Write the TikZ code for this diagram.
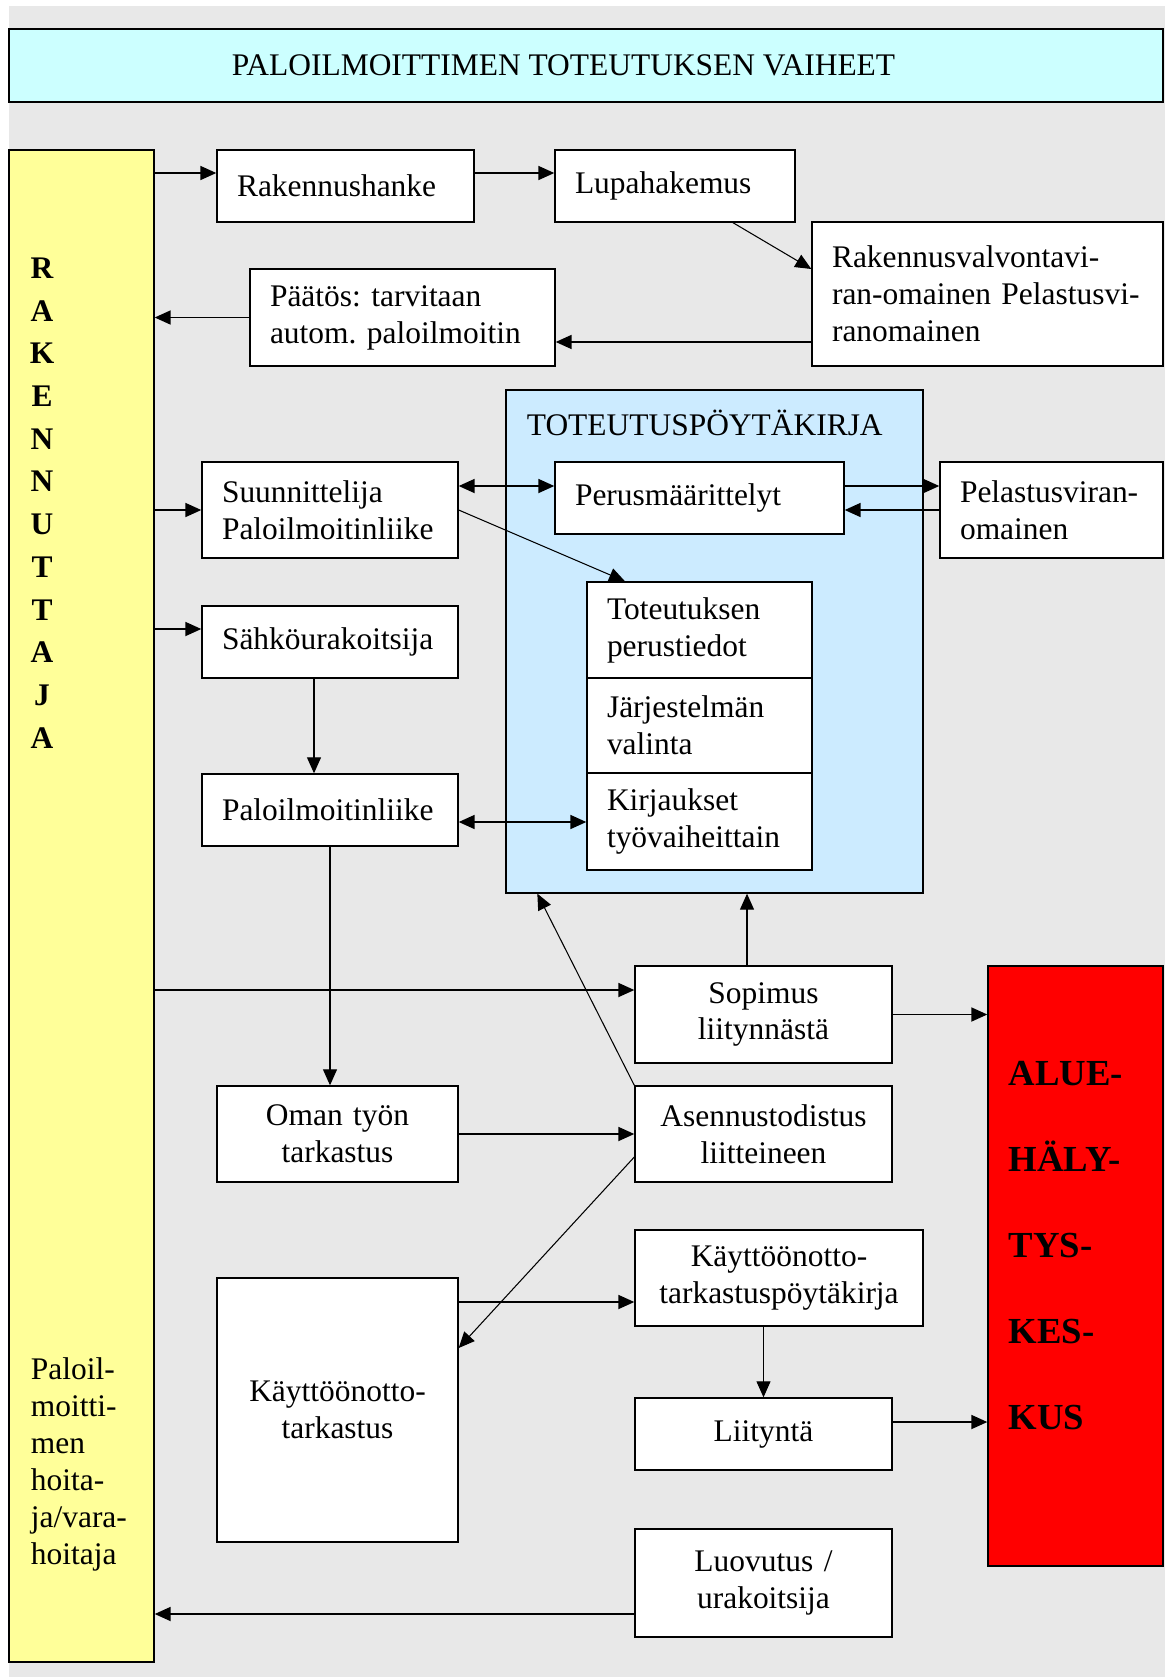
\documentclass[tikz,border=0pt]{standalone}
\usepackage{fontspec}
\setmainfont{Liberation Serif}
\usepackage{tikz}
\usetikzlibrary{arrows.meta, positioning}
\definecolor{bggray}{HTML}{E8E8E8}
\definecolor{titlecyan}{HTML}{CCFFFF}
\definecolor{rkyellow}{HTML}{FFFF99}
\definecolor{tpkblue}{HTML}{CCEBFF}
\hyphenpenalty=10000
\exhyphenpenalty=10000
\frenchspacing

\begin{document}
\begin{tikzpicture}[->,
	>={Triangle[length=0.32cm, width=0.28cm]},
	x=0.02cm, y=-0.02cm,
	line width=1pt,
	txt/.style={font=\fontsize{17.9}{21}\selectfont},
	box/.style={draw, thick, fill=white, txt, align=left, inner xsep=0.4cm, inner ysep=0.1cm},
	cbox/.style={box, align=center}]
	\useasboundingbox (0,0) rectangle (1165,1677);
	\fill[bggray] (9,6) rectangle (1165,1677);
	% otsikko ja reunapalkit
	\node at (586,65.5) (title) [box, fill=titlecyan, minimum width=23.08cm, minimum height=1.46cm, align=center] {\hspace*{-0.9cm}PALOILMOITTIMEN TOTEUTUKSEN VAIHEET};
	\node at (81.5,906) (rk) [box, fill=rkyellow, minimum width=2.9cm, minimum height=30.24cm] {};
	\node at (714.5,641.5) (tpk) [box, fill=tpkblue, minimum width=8.34cm, minimum height=10.06cm] {};
	\node at (1075.5,1266) (alue) [box, fill=red, minimum width=3.5cm, minimum height=12cm] {};
	\node at (42,257) (rkname) [anchor=north, inner sep=0, align=center, font=\bfseries\fontsize{17.9}{24.3}\selectfont] {R\\A\\K\\E\\N\\N\\U\\T\\T\\A\\J\\A};
	\node at (30,1357) (hoitaja) [anchor=north west, inner sep=0, align=left, txt] {Paloil-\\moitti-\\men\\hoita-\\ja/vara-\\hoitaja};
	\node at (1008,1060) (aluename) [anchor=north west, inner sep=0, align=left, font=\bfseries\fontsize{20.9}{49}\selectfont] {ALUE-\\HÄLY-\\TYS-\\KES-\\KUS};
	\node at (526,409) (tpkname) [anchor=north west, inner sep=0, txt] {TOTEUTUSPÖYTÄKIRJA};
	% vaiheet
	\node at (345.5,186) (rh) [box, minimum width=5.14cm, minimum height=1.44cm, text width=4.34cm] {Rakennushanke};
	\node at (675,186) (lupa) [box, minimum width=4.8cm, minimum height=1.44cm, text width=4.0cm] {Lupahakemus};
	\node at (987.5,294) (rv) [box, minimum width=7.02cm, minimum height=2.88cm, text width=6.22cm] {Rakennusvalvontavi-\\\mbox{ran-omainen Pelastusvi-}\\ranomainen};
	\node at (402.5,317.5) (paatos) [box, minimum width=6.1cm, minimum height=1.94cm, text width=5.3cm] {Päätös: tarvitaan\\autom. paloilmoitin};
	\node at (330,510) (suun) [box, minimum width=5.12cm, minimum height=1.92cm, text width=4.32cm] {Suunnittelija\\Paloilmoitinliike};
	\node at (699.5,498) (perus) [box, minimum width=5.78cm, minimum height=1.44cm, text width=4.98cm] {Perusmäärittelyt};
	\node at (1051.5,510) (pel) [box, minimum width=4.46cm, minimum height=1.92cm, text width=3.66cm] {Pelastusviran-\\omainen};
	\node at (699.5,630) (tp) [box, minimum width=4.5cm, minimum height=1.92cm, text width=3.7cm] {Toteutuksen\\perustiedot};
	\node at (699.5,725.5) (jv) [box, minimum width=4.5cm, minimum height=1.9cm, text width=3.7cm] {Järjestelmän\\valinta};
	\node at (699.5,821.5) (kv) [box, minimum width=4.5cm, minimum height=1.94cm, text width=3.7cm] {Kirjaukset\\työvaiheittain};
	\node at (330,642) (sahko) [box, minimum width=5.12cm, minimum height=1.44cm, text width=4.32cm] {Sähköurakoitsija};
	\node at (330,810) (pil) [box, minimum width=5.12cm, minimum height=1.44cm, text width=4.32cm] {Paloilmoitinliike};
	\node at (763.5,1014.5) (sop) [cbox, minimum width=5.14cm, minimum height=1.94cm, text width=4.34cm] {Sopimus\\liitynnästä};
	\node at (337.5,1134) (oman) [cbox, minimum width=4.82cm, minimum height=1.92cm, text width=4.02cm] {Oman työn\\tarkastus};
	\node at (763.5,1134) (asen) [cbox, minimum width=5.14cm, minimum height=1.92cm, text width=4.34cm] {Asennustodistus\\liitteineen};
	\node at (779,1278) (ktpk) [cbox, minimum width=5.76cm, minimum height=1.92cm, text width=4.96cm] {Käyttöönotto-\\tarkastuspöytäkirja};
	\node at (337.5,1410) (kt) [cbox, minimum width=4.82cm, minimum height=5.28cm, text width=4.02cm] {Käyttöönotto-\\tarkastus};
	\node at (763.5,1434) (liit) [cbox, minimum width=5.14cm, minimum height=1.44cm, text width=4.34cm] {Liityntä};
	\node at (763.5,1583) (luov) [cbox, minimum width=5.14cm, minimum height=2.16cm, text width=4.34cm] {Luovutus /\\urakoitsija};
	% nuolet
	\draw ([yshift=0.26cm]rh.west -| rk.east) -- ([yshift=0.26cm]rh.west);
	\draw ([yshift=0.26cm]rh.east) -- ([yshift=0.26cm]lupa.west);
	\draw[semithick] ([xshift=1.16cm]lupa.south) -- ([yshift=0.5cm]rv.west);
	\draw ([yshift=-0.96cm]rv.west) -- ([yshift=-0.96cm]rv.west -| paatos.east);
	\draw (paatos.west) -- (paatos.west -| rk.east);
	\draw (suun.west -| rk.east) -- (suun.west);
	\draw[<->] ([yshift=0.48cm]suun.east) -- ([yshift=0.48cm]suun.east -| perus.west);
	\draw ([yshift=0.24cm]perus.east) -- ([yshift=0.24cm]perus.east -| pel.west);
	\draw (pel.west) -- (pel.west -| perus.east);
	\draw[semithick] (suun.east) -- ([xshift=-1.49cm]tp.north);
	\draw ([yshift=0.26cm]sahko.west -| rk.east) -- ([yshift=0.26cm]sahko.west);
	\draw[semithick] ([xshift=-0.32cm]sahko.south) -- ([xshift=-0.32cm]pil.north);
	\draw[<->] ([yshift=-0.24cm]pil.east) -- ([yshift=-0.24cm]pil.east -| kv.west);
	\draw[semithick] (pil.south) -- (pil.south |- oman.north);
	\draw ([yshift=0.49cm]sop.west -| rk.east) -- ([yshift=0.49cm]sop.west);
	\draw[semithick] ([xshift=-0.33cm]sop.north) -- ([xshift=-0.33cm]sop.north |- tpk.south);
	\draw (sop.east) -- (sop.east -| alue.west);
	\draw[semithick] (asen.north west) -- ([xshift=0.64cm]tpk.south west);
	\draw (oman.east) -- (asen.west);
	\draw[semithick] ([yshift=-0.46cm]asen.west) -- ([yshift=1.24cm]kt.east);
	\draw ([yshift=-0.48cm]ktpk.west -| kt.east) -- ([yshift=-0.48cm]ktpk.west);
	\draw[semithick] (liit.north |- ktpk.south) -- (liit.north);
	\draw ([yshift=0.24cm]liit.east) -- ([yshift=0.24cm]liit.east -| alue.west);
	\draw ([yshift=-0.62cm]luov.west) -- ([yshift=-0.62cm]luov.west -| rk.east);
\end{tikzpicture}
\end{document}
